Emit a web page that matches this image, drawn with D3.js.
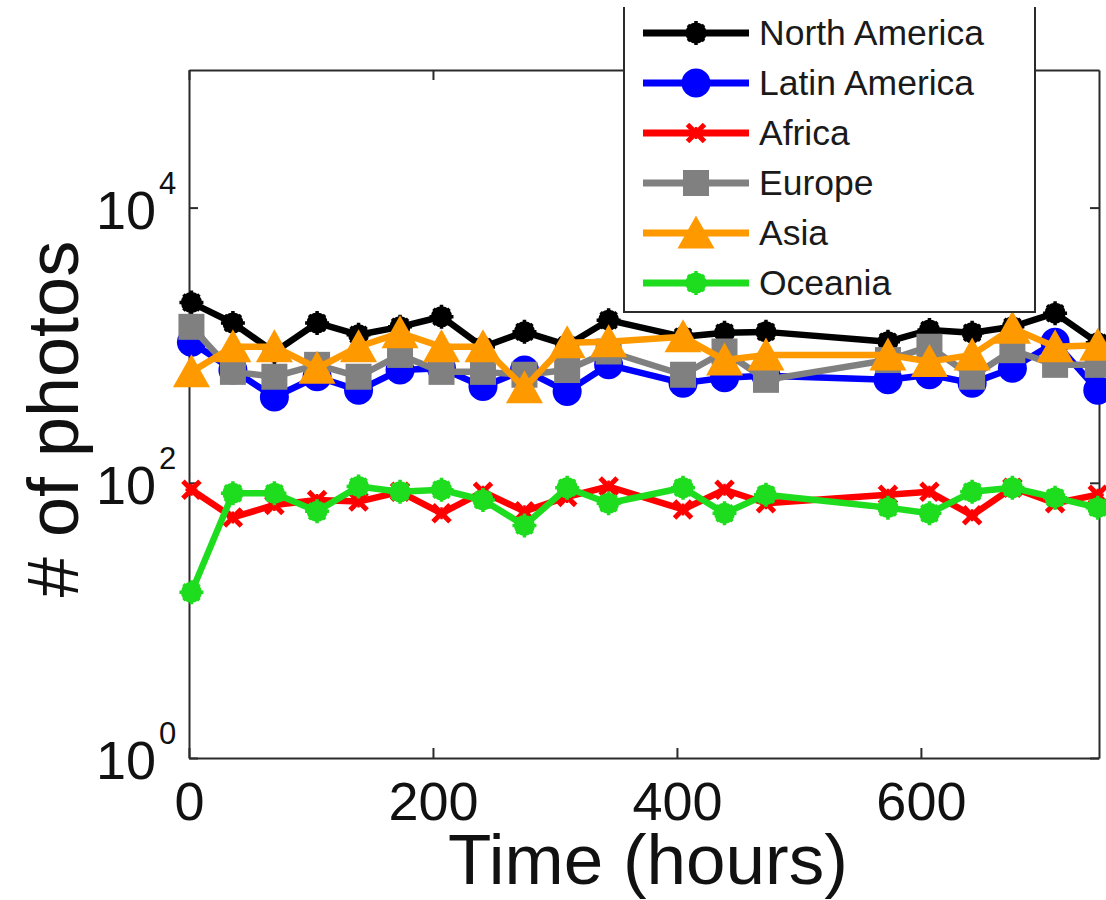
<!DOCTYPE html>
<html>
<head>
<meta charset="utf-8">
<script src="https://cdn.jsdelivr.net/npm/d3@7"></script>
<style>
  html, body { margin: 0; padding: 0; background: #fff; }
  svg { display: block; font-family: "Liberation Sans", Arial, Helvetica, sans-serif; }
</style>
</head>
<body>
<svg id="chart" width="1106" height="900"></svg>
<script>
// Sampling times (hours)
const hours = [2, 36, 70, 105, 139, 173, 207, 241, 275, 310, 344, 405, 439, 473, 573, 607, 642, 675, 710, 745];

// Number of photos per region at each sampling time
const northAmerica = [2040, 1450, 890, 1450, 1190, 1360, 1610, 970, 1250, 1000, 1520, 1150, 1230, 1250, 1060, 1290, 1230, 1360, 1710, 1040];
const latinAmerica = [1050, 660, 420, 590, 470, 660, 680, 500, 660, 460, 720, 530, 580, 600, 560, 610, 530, 680, 1050, 470];
const africa       = [89, 56, 69, 75, 73, 86, 60, 86, 62, 79, 94, 64, 89, 71, 82, 86, 58, 92, 71, 82];
const europe       = [1360, 640, 590, 720, 590, 850, 640, 640, 610, 660, 900, 610, 900, 560, 780, 975, 590, 920, 720, 720];
const asia         = [640, 975, 975, 680, 975, 1230, 975, 975, 490, 1040, 1060, 1150, 780, 850, 850, 760, 850, 1330, 975, 1000];
const oceania      = [16, 84, 84, 62, 94, 86, 89, 75, 49, 92, 71, 92, 60, 82, 66, 60, 86, 92, 78, 66];

const regionNames = ["North America", "Latin America", "Africa", "Europe", "Asia", "Oceania"];
const regionValues = [northAmerica, latinAmerica, africa, europe, asia, oceania];
const regionColors = ["#000000", "#0000ff", "#ff0000", "#808080", "#ff9900", "#1edc1e"];
const regionMarkers = ["dotStar", "circle", "cross", "square", "triangle", "dotStar"];

const xTicks = [0, 200, 400, 600];
const yTickExponents = [0, 2, 4];
const xLabel = "Time (hours)";
const yLabel = "# of photos";

const svg = d3.select("#chart");
const plot = { left: 189, right: 1099, top: 70, bottom: 758 };

const x = d3.scaleLinear().domain([0, 746]).range([plot.left, plot.right]);
const y = d3.scaleLog().domain([1, 1e5]).range([plot.bottom, plot.top]);

const axisColor = "#2b2b2b";

// Axes box with inward ticks on all four sides
function styleAxis(g) {
  g.select(".domain").attr("stroke", axisColor).attr("stroke-width", 2);
  g.selectAll(".tick line").attr("stroke", axisColor).attr("stroke-width", 2);
}

svg.append("g")
  .attr("transform", `translate(0,${plot.bottom})`)
  .call(d3.axisBottom(x).tickValues(xTicks).tickSize(-10).tickSizeOuter(0).tickPadding(24).tickFormat(d3.format("d")))
  .call(styleAxis)
  .call(g => g.selectAll(".tick text").attr("font-size", 54).attr("fill", "#111")
    .attr("font-family", "'Liberation Sans', Arial, sans-serif"));

svg.append("g")
  .attr("transform", `translate(0,${plot.top})`)
  .call(d3.axisTop(x).tickValues(xTicks).tickSize(-10).tickSizeOuter(0).tickFormat(""))
  .call(styleAxis);

const yTickValues = yTickExponents.map(e => Math.pow(10, e));

svg.append("g")
  .attr("transform", `translate(${plot.left},0)`)
  .call(d3.axisLeft(y).tickValues(yTickValues).tickSize(-9).tickSizeOuter(0).tickFormat(""))
  .call(styleAxis);

svg.append("g")
  .attr("transform", `translate(${plot.right},0)`)
  .call(d3.axisRight(y).tickValues(yTickValues).tickSize(-9).tickSizeOuter(0).tickFormat(""))
  .call(styleAxis);

// Power-of-ten tick labels
const yLab = svg.append("g").attr("fill", "#111");
yTickExponents.forEach(e => {
  const ty = y(Math.pow(10, e));
  yLab.append("text")
    .attr("x", 156).attr("y", ty + 21)
    .attr("text-anchor", "end")
    .attr("font-size", 54)
    .text("10");
  yLab.append("text")
    .attr("x", 159).attr("y", ty - 14)
    .attr("text-anchor", "start")
    .attr("font-size", 31)
    .text(String(e));
});

// Axis titles
svg.append("text")
  .attr("x", 648).attr("y", 884)
  .attr("text-anchor", "middle")
  .attr("font-size", 71)
  .attr("fill", "#111")
  .text(xLabel);

svg.append("text")
  .attr("transform", "translate(78,419) rotate(-90)")
  .attr("text-anchor", "middle")
  .attr("font-size", 72)
  .attr("fill", "#111")
  .text(yLabel);

// Marker drawing
function drawMarker(g, type, color) {
  if (type === "circle") {
    g.append("circle").attr("r", 14.5).attr("fill", color);
  } else if (type === "square") {
    g.append("rect").attr("x", -13).attr("y", -13).attr("width", 26).attr("height", 26).attr("fill", color);
  } else if (type === "triangle") {
    g.append("path").attr("d", "M0,-17.5 L18.5,15.5 L-18.5,15.5 Z").attr("fill", color);
  } else if (type === "cross") {
    g.append("path").attr("d", "M-8.5,-8.5 L8.5,8.5 M-8.5,8.5 L8.5,-8.5")
      .attr("stroke", color).attr("stroke-width", 5).attr("fill", "none");
    g.append("path").attr("d", "M0,-6 L0,6 M-6,0 L6,0")
      .attr("stroke", color).attr("stroke-width", 2.5).attr("fill", "none");
  } else if (type === "dotStar") {
    g.append("circle").attr("r", 10.5).attr("fill", color);
    g.append("path").attr("d", "M0,-12 L0,12 M-12,0 L12,0 M-8,-8 L8,8 M-8,8 L8,-8")
      .attr("stroke", color).attr("stroke-width", 3.5).attr("fill", "none");
  }
}

const line = d3.line().x(d => x(d[0])).y(d => y(d[1]));

// Series: line and markers, drawn in legend order
regionNames.forEach((name, i) => {
  const pts = hours.map((h, j) => [h, regionValues[i][j]]);
  const g = svg.append("g").attr("class", "series");
  g.append("path")
    .attr("d", line(pts))
    .attr("fill", "none")
    .attr("stroke", regionColors[i])
    .attr("stroke-width", 6.5)
    .attr("stroke-linejoin", "round");
  pts.forEach(p => {
    const m = g.append("g").attr("transform", `translate(${x(p[0])},${y(p[1])})`);
    drawMarker(m, regionMarkers[i], regionColors[i]);
  });
});

// Legend
const legend = svg.append("g");
legend.append("rect")
  .attr("x", 624).attr("y", 7).attr("width", 411).attr("height", 305)
  .attr("fill", "#fff");
legend.append("path")
  .attr("d", "M624,7 V312 H1035 V7")
  .attr("fill", "none").attr("stroke", axisColor).attr("stroke-width", 2);

regionNames.forEach((name, i) => {
  const cy = 33 + i * 50;
  legend.append("line")
    .attr("x1", 643).attr("x2", 749).attr("y1", cy).attr("y2", cy)
    .attr("stroke", regionColors[i]).attr("stroke-width", 7);
  const m = legend.append("g").attr("transform", `translate(696,${cy})`);
  drawMarker(m, regionMarkers[i], regionColors[i]);
  legend.append("text")
    .attr("x", 759).attr("y", cy + 12)
    .attr("font-size", 35.5)
    .attr("fill", "#1a1a1a")
    .text(name);
});
</script>
</body>
</html>
